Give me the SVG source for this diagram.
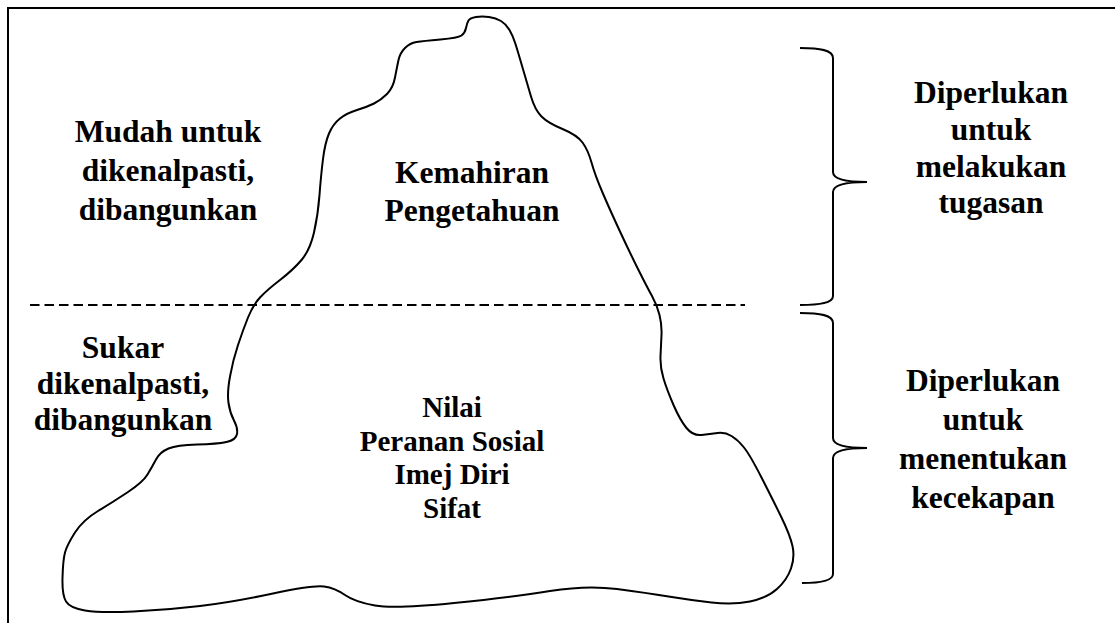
<svg xmlns="http://www.w3.org/2000/svg" width="1115" height="623" viewBox="0 0 1115 623">
<style>
.t{font-family:"Liberation Serif","Times New Roman",serif;font-weight:bold;font-size:31.5px;fill:#000;text-anchor:middle}
.s{font-size:29px}
.ln{fill:none;stroke:#000;stroke-width:2}
</style>
<rect width="1115" height="623" fill="#fff"/>
<g id="frame">
<path class="ln" stroke-width="2.5" d="M8 623 V8 H1115"/>
</g>
<g id="iceberg">
<path class="ln" stroke-width="2.5" stroke-linejoin="round" d="M468.5 20.5
Q470 18 476 17 Q482 16 489 17 Q496 18 501 21 Q506 24 509.5 30 Q513 36 515.5 44 Q518 52 522.5 67.5 Q527 83 531 96.5 Q535 110 541.5 116.5 Q548 123 562.5 129 Q577 135 582.5 142.5 Q588 150 591.5 162.5 Q595 175 602.5 192.5 Q610 210 620 231.5 Q630 253 638.5 270 Q647 287 652 296 Q657 305 659.5 315 Q662 325 661.5 335 Q661 345 660.5 356 Q660 367 663.5 378.5 Q667 390 673.5 405 Q680 420 686.5 428 Q693 436 701.5 435 Q710 434 717.5 433 Q725 432 731.5 436 Q738 440 744 447.5 Q750 455 761.5 477.5 Q773 500 781.5 517.5 Q790 535 792.5 546 Q795 557 791 568.5 Q787 580 777 589 Q767 598 750 601.5 Q733 605 711.5 602.5 Q690 600 668.5 596.5 Q647 593 617 589 Q587 585 550 591 Q513 597 454 603 Q395 609 375 605.5 Q355 602 345 595 Q335 588 324 586.5 Q313 585 273 593.5 Q233 602 200 606 Q167 610 133.5 611.5 Q100 613 85 610.5 Q70 608 66 601.5 Q62 595 62.5 577.5 Q63 560 65 552.5 Q67 545 75 532.5 Q83 520 98 511 Q113 502 128 492 Q143 482 147.5 474.5 Q152 467 156 459.5 Q160 452 168.5 448.5 Q177 445 197 444.5 Q217 444 226.5 442 Q236 440 237 434 Q238 428 234 420.5 Q230 413 228.5 403 Q227 393 230 376.5 Q233 360 238 345 Q243 330 248 317.5 Q253 305 260 297.5 Q267 290 280 280 Q293 270 301.5 260 Q310 250 314 232.5 Q318 215 319.5 195 Q321 175 323 159 Q325 143 329 133.5 Q333 124 340 118.5 Q347 113 357 110 Q367 107 374 103.5 Q381 100 387 94 Q393 88 395 77.5 Q397 67 398.5 60 Q400 53 405 48 Q410 43 416.5 42 Q423 41 440.5 39.5 Q458 38 461.5 35.5 Q465 33 466 28 Q467 23 468.5 20.5 Z"/>
</g>
<g id="connectors">
<line class="ln" x1="30" y1="305" x2="745" y2="305" stroke-width="1.5" stroke-dasharray="9.5 5"/>
<path id="brace-top" class="ln" stroke-width="1.5" d="M800 48 C820 48 833 50 833 58 L833 172 C833 179 845 182 867 182 C845 182 833 185 833 192 L833 296 C833 303 820 305 800 305"/>
<path id="brace-bottom" class="ln" stroke-width="1.5" d="M800 313 C820 313 833 315 833 323 L833 438 C833 445 845 448 867 448 C845 448 833 451 833 458 L833 574 C833 581 820 583 802 583"/>
</g>
<g id="label-mudah">
<text class="t" x="168" y="142">Mudah untuk</text>
<text class="t" x="168" y="181">dikenalpasti,</text>
<text class="t" x="168" y="220">dibangunkan</text>
</g>
<g id="label-sukar">
<text class="t" x="123" y="358">Sukar</text>
<text class="t" x="123" y="394">dikenalpasti,</text>
<text class="t" x="123" y="430">dibangunkan</text>
</g>
<g id="label-kemahiran">
<text class="t" x="472" y="183">Kemahiran</text>
<text class="t" x="472" y="221">Pengetahuan</text>
</g>
<g id="label-nilai">
<text class="t s" x="452" y="417">Nilai</text>
<text class="t s" x="452" y="451">Peranan Sosial</text>
<text class="t s" x="452" y="484">Imej Diri</text>
<text class="t s" x="452" y="518">Sifat</text>
</g>
<g id="label-tugasan">
<text class="t" x="991" y="103">Diperlukan</text>
<text class="t" x="991" y="140">untuk</text>
<text class="t" x="991" y="177">melakukan</text>
<text class="t" x="991" y="213">tugasan</text>
</g>
<g id="label-kecekapan">
<text class="t" x="983" y="391">Diperlukan</text>
<text class="t" x="983" y="430">untuk</text>
<text class="t" x="983" y="469">menentukan</text>
<text class="t" x="983" y="508">kecekapan</text>
</g>
</svg>
